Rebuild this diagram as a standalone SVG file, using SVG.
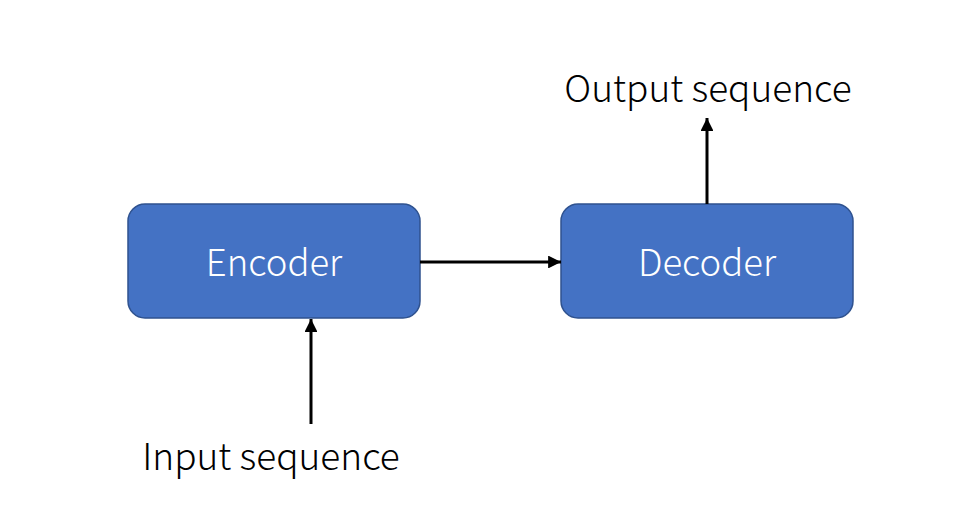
<svg xmlns="http://www.w3.org/2000/svg" width="966" height="518" viewBox="0 0 966 518">
<defs>
<style>
.box{fill:#4472c4;stroke:#2f528f;stroke-width:1.5}
.lbl{font-family:"Noto Sans CJK SC","Noto Sans",sans-serif;font-size:36.5px;font-weight:300;fill:#fff;text-anchor:middle}
.txt{font-family:"Noto Sans CJK SC","Noto Sans",sans-serif;font-size:37px;font-weight:300;fill:#000;text-anchor:middle}
.edge{stroke:#000;stroke-width:3;fill:none;marker-end:url(#ah)}
</style>
<marker id="ah" viewBox="0 0 10 10" refX="10" refY="5" markerWidth="4.3" markerHeight="4.3" orient="auto" markerUnits="strokeWidth">
<path d="M0,0 L10,5 L0,10 z" fill="#000"/>
</marker>
</defs>
<rect width="966" height="518" fill="#fff"/>
<g id="encoder">
<rect class="box" x="128" y="204" width="292" height="114" rx="17"/>
<text class="lbl" x="274" y="276">Encoder</text>
</g>
<g id="decoder">
<rect class="box" x="561" y="204" width="292" height="114" rx="17"/>
<text class="lbl" x="707" y="276">Decoder</text>
</g>
<g id="input">
<text class="txt" x="271" y="470">Input sequence</text>
</g>
<g id="output">
<text class="txt" x="708" y="102">Output sequence</text>
</g>
<g id="connectors">
<line class="edge" x1="420" y1="262" x2="561" y2="262"/>
<line class="edge" x1="707" y1="204" x2="707" y2="118"/>
<line class="edge" x1="311" y1="424" x2="311" y2="319"/>
</g>
</svg>
